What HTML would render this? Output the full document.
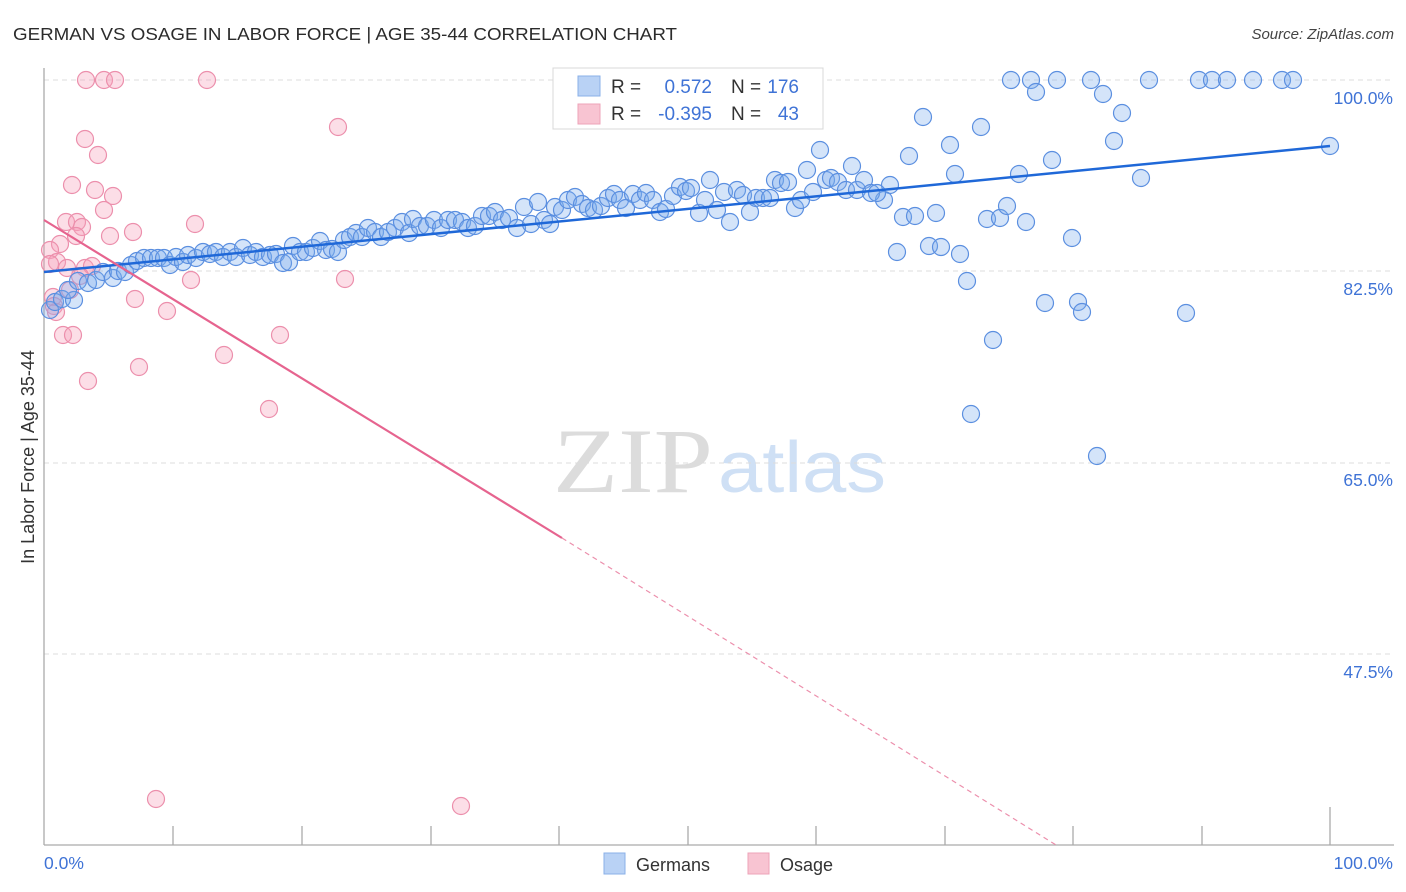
<!DOCTYPE html>
<html><head><meta charset="utf-8"><style>
html,body{margin:0;padding:0;background:#fff;}
svg{display:block;font-family:"Liberation Sans",sans-serif;}
.b circle{fill:rgba(120,170,235,0.32);stroke:#5b8fe0;stroke-width:1.2;}
.p circle{fill:rgba(245,160,185,0.35);stroke:#ec8fac;stroke-width:1.2;}
</style></head><body>
<svg width="1406" height="892" viewBox="0 0 1406 892" xmlns="http://www.w3.org/2000/svg">
<rect width="1406" height="892" fill="#fff"/>
<text x="13" y="40" font-size="17.5" fill="#2b2b2b" textLength="664" lengthAdjust="spacingAndGlyphs">GERMAN VS OSAGE IN LABOR FORCE | AGE 35-44 CORRELATION CHART</text>
<text x="1394" y="39" font-size="15" fill="#444" font-style="italic" text-anchor="end">Source: ZipAtlas.com</text>
<!-- watermark -->
<text x="553" y="492" font-size="92" font-family="Liberation Serif,serif" fill="#dcdcdc" textLength="160" lengthAdjust="spacingAndGlyphs">ZIP</text>
<text x="718" y="492" font-size="72" fill="#cfe0f5" textLength="168" lengthAdjust="spacingAndGlyphs">atlas</text>
<!-- grid -->
<g stroke="#dcdcdc" stroke-width="1" stroke-dasharray="5 4">
<line x1="44" y1="80" x2="1394" y2="80"/><line x1="44" y1="271" x2="1394" y2="271"/><line x1="44" y1="463" x2="1394" y2="463"/><line x1="44" y1="654" x2="1394" y2="654"/>
</g>
<g stroke="#aaa" stroke-width="1.3">
<line x1="44" y1="68" x2="44" y2="845"/><line x1="44" y1="845" x2="1394" y2="845"/>
<line x1="173" y1="826" x2="173" y2="845"/><line x1="302" y1="826" x2="302" y2="845"/><line x1="431" y1="826" x2="431" y2="845"/><line x1="559" y1="826" x2="559" y2="845"/><line x1="688" y1="826" x2="688" y2="845"/><line x1="816" y1="826" x2="816" y2="845"/><line x1="945" y1="826" x2="945" y2="845"/><line x1="1073" y1="826" x2="1073" y2="845"/><line x1="1202" y1="826" x2="1202" y2="845"/><line x1="1330" y1="807" x2="1330" y2="845"/>
</g>
<g font-size="17.5" fill="#3f73d6" text-anchor="end">
<text x="1393" y="104">100.0%</text><text x="1393" y="295">82.5%</text><text x="1393" y="486">65.0%</text><text x="1393" y="678">47.5%</text>
<text x="1393" y="869">100.0%</text>
</g>
<text x="44" y="869" font-size="17.5" fill="#3f73d6">0.0%</text>
<text transform="translate(34,457) rotate(-90)" font-size="18" fill="#333" text-anchor="middle">In Labor Force | Age 35-44</text>
<!-- pink points -->
<g class="p">
<circle cx="86" cy="80" r="8.5"/><circle cx="104" cy="80" r="8.5"/><circle cx="115" cy="80" r="8.5"/><circle cx="207" cy="80" r="8.5"/>
<circle cx="338" cy="127" r="8.5"/><circle cx="85" cy="139" r="8.5"/><circle cx="98" cy="155" r="8.5"/><circle cx="72" cy="185" r="8.5"/>
<circle cx="95" cy="190" r="8.5"/><circle cx="113" cy="196" r="8.5"/><circle cx="104" cy="210" r="8.5"/><circle cx="66" cy="222" r="8.5"/>
<circle cx="77" cy="222" r="8.5"/><circle cx="82" cy="227" r="8.5"/><circle cx="76" cy="236" r="8.5"/><circle cx="110" cy="236" r="8.5"/>
<circle cx="133" cy="232" r="8.5"/><circle cx="195" cy="224" r="8.5"/><circle cx="60" cy="244" r="8.5"/><circle cx="50" cy="250" r="8.5"/>
<circle cx="57" cy="262" r="8.5"/><circle cx="50" cy="264" r="8.5"/><circle cx="85" cy="268" r="8.5"/><circle cx="67" cy="268" r="8.5"/>
<circle cx="92" cy="266" r="8.5"/><circle cx="80" cy="276" r="8.5"/><circle cx="191" cy="280" r="8.5"/><circle cx="345" cy="279" r="8.5"/>
<circle cx="70" cy="290" r="8.5"/><circle cx="53" cy="297" r="8.5"/><circle cx="54" cy="306" r="8.5"/><circle cx="56" cy="312" r="8.5"/>
<circle cx="135" cy="299" r="8.5"/><circle cx="167" cy="311" r="8.5"/><circle cx="63" cy="335" r="8.5"/><circle cx="73" cy="335" r="8.5"/>
<circle cx="224" cy="355" r="8.5"/><circle cx="280" cy="335" r="8.5"/><circle cx="139" cy="367" r="8.5"/><circle cx="88" cy="381" r="8.5"/>
<circle cx="269" cy="409" r="8.5"/><circle cx="156" cy="799" r="8.5"/><circle cx="461" cy="806" r="8.5"/>
</g>
<!-- blue points -->
<g class="b">
<circle cx="1011" cy="80" r="8.5"/><circle cx="1031" cy="80" r="8.5"/><circle cx="1036" cy="92" r="8.5"/><circle cx="1057" cy="80" r="8.5"/><circle cx="1091" cy="80" r="8.5"/><circle cx="1103" cy="94" r="8.5"/><circle cx="1122" cy="113" r="8.5"/><circle cx="1149" cy="80" r="8.5"/><circle cx="1199" cy="80" r="8.5"/><circle cx="1212" cy="80" r="8.5"/><circle cx="1227" cy="80" r="8.5"/><circle cx="1253" cy="80" r="8.5"/><circle cx="1282" cy="80" r="8.5"/><circle cx="1293" cy="80" r="8.5"/><circle cx="1330" cy="146" r="8.5"/>
<circle cx="923" cy="117" r="8.5"/><circle cx="981" cy="127" r="8.5"/><circle cx="950" cy="145" r="8.5"/><circle cx="1114" cy="141" r="8.5"/><circle cx="1052" cy="160" r="8.5"/><circle cx="820" cy="150" r="8.5"/><circle cx="852" cy="166" r="8.5"/><circle cx="909" cy="156" r="8.5"/><circle cx="955" cy="174" r="8.5"/><circle cx="1019" cy="174" r="8.5"/><circle cx="1141" cy="178" r="8.5"/><circle cx="890" cy="185" r="8.5"/><circle cx="884" cy="200" r="8.5"/><circle cx="936" cy="213" r="8.5"/><circle cx="903" cy="217" r="8.5"/><circle cx="915" cy="216" r="8.5"/><circle cx="987" cy="219" r="8.5"/><circle cx="1000" cy="218" r="8.5"/><circle cx="1026" cy="222" r="8.5"/><circle cx="1007" cy="206" r="8.5"/><circle cx="1072" cy="238" r="8.5"/><circle cx="897" cy="252" r="8.5"/><circle cx="929" cy="246" r="8.5"/><circle cx="941" cy="247" r="8.5"/><circle cx="960" cy="254" r="8.5"/><circle cx="967" cy="281" r="8.5"/><circle cx="1045" cy="303" r="8.5"/><circle cx="1078" cy="302" r="8.5"/><circle cx="1082" cy="312" r="8.5"/><circle cx="1186" cy="313" r="8.5"/><circle cx="993" cy="340" r="8.5"/><circle cx="971" cy="414" r="8.5"/><circle cx="1097" cy="456" r="8.5"/>
<circle cx="50" cy="310" r="8.5"/><circle cx="55" cy="302" r="8.5"/><circle cx="62" cy="299" r="8.5"/><circle cx="74" cy="300" r="8.5"/><circle cx="68" cy="290" r="8.5"/><circle cx="78" cy="281" r="8.5"/><circle cx="88" cy="283" r="8.5"/><circle cx="96" cy="280" r="8.5"/><circle cx="103" cy="272" r="8.5"/><circle cx="113" cy="278" r="8.5"/><circle cx="118" cy="271" r="8.5"/><circle cx="125" cy="272" r="8.5"/><circle cx="131" cy="265" r="8.5"/><circle cx="137" cy="261" r="8.5"/><circle cx="144" cy="258" r="8.5"/><circle cx="151" cy="258" r="8.5"/><circle cx="158" cy="258" r="8.5"/><circle cx="164" cy="258" r="8.5"/><circle cx="170" cy="265" r="8.5"/><circle cx="176" cy="257" r="8.5"/><circle cx="183" cy="262" r="8.5"/><circle cx="188" cy="255" r="8.5"/><circle cx="196" cy="258" r="8.5"/><circle cx="203" cy="252" r="8.5"/><circle cx="210" cy="254" r="8.5"/><circle cx="216" cy="252" r="8.5"/><circle cx="223" cy="257" r="8.5"/><circle cx="230" cy="252" r="8.5"/><circle cx="236" cy="257" r="8.5"/><circle cx="243" cy="248" r="8.5"/><circle cx="250" cy="255" r="8.5"/><circle cx="256" cy="252" r="8.5"/><circle cx="263" cy="257" r="8.5"/><circle cx="270" cy="255" r="8.5"/><circle cx="276" cy="254" r="8.5"/><circle cx="283" cy="263" r="8.5"/><circle cx="289" cy="262" r="8.5"/><circle cx="293" cy="246" r="8.5"/><circle cx="300" cy="252" r="8.5"/><circle cx="306" cy="252" r="8.5"/><circle cx="313" cy="248" r="8.5"/><circle cx="320" cy="241" r="8.5"/><circle cx="326" cy="250" r="8.5"/><circle cx="332" cy="249" r="8.5"/><circle cx="338" cy="252" r="8.5"/><circle cx="344" cy="240" r="8.5"/><circle cx="350" cy="237" r="8.5"/><circle cx="356" cy="233" r="8.5"/><circle cx="362" cy="237" r="8.5"/><circle cx="368" cy="228" r="8.5"/><circle cx="375" cy="232" r="8.5"/><circle cx="381" cy="237" r="8.5"/><circle cx="388" cy="232" r="8.5"/><circle cx="395" cy="228" r="8.5"/><circle cx="402" cy="222" r="8.5"/><circle cx="409" cy="233" r="8.5"/><circle cx="413" cy="219" r="8.5"/><circle cx="420" cy="226" r="8.5"/><circle cx="427" cy="226" r="8.5"/><circle cx="434" cy="220" r="8.5"/><circle cx="441" cy="228" r="8.5"/><circle cx="448" cy="220" r="8.5"/><circle cx="455" cy="220" r="8.5"/><circle cx="462" cy="222" r="8.5"/><circle cx="468" cy="228" r="8.5"/><circle cx="475" cy="226" r="8.5"/><circle cx="482" cy="216" r="8.5"/><circle cx="489" cy="216" r="8.5"/><circle cx="495" cy="212" r="8.5"/><circle cx="502" cy="220" r="8.5"/><circle cx="509" cy="218" r="8.5"/><circle cx="517" cy="228" r="8.5"/><circle cx="524" cy="207" r="8.5"/><circle cx="531" cy="224" r="8.5"/><circle cx="538" cy="202" r="8.5"/><circle cx="544" cy="220" r="8.5"/><circle cx="550" cy="224" r="8.5"/><circle cx="555" cy="207" r="8.5"/><circle cx="562" cy="210" r="8.5"/><circle cx="568" cy="200" r="8.5"/><circle cx="575" cy="197" r="8.5"/><circle cx="582" cy="204" r="8.5"/><circle cx="588" cy="208" r="8.5"/><circle cx="594" cy="210" r="8.5"/><circle cx="601" cy="206" r="8.5"/><circle cx="608" cy="198" r="8.5"/><circle cx="614" cy="194" r="8.5"/><circle cx="620" cy="200" r="8.5"/><circle cx="626" cy="208" r="8.5"/><circle cx="633" cy="194" r="8.5"/><circle cx="640" cy="200" r="8.5"/><circle cx="646" cy="193" r="8.5"/><circle cx="653" cy="200" r="8.5"/><circle cx="660" cy="212" r="8.5"/><circle cx="666" cy="209" r="8.5"/><circle cx="673" cy="196" r="8.5"/><circle cx="680" cy="187" r="8.5"/><circle cx="686" cy="191" r="8.5"/><circle cx="691" cy="188" r="8.5"/><circle cx="699" cy="213" r="8.5"/><circle cx="705" cy="200" r="8.5"/><circle cx="710" cy="180" r="8.5"/><circle cx="717" cy="210" r="8.5"/><circle cx="724" cy="192" r="8.5"/><circle cx="730" cy="222" r="8.5"/><circle cx="737" cy="190" r="8.5"/><circle cx="743" cy="195" r="8.5"/><circle cx="750" cy="212" r="8.5"/><circle cx="756" cy="198" r="8.5"/><circle cx="763" cy="198" r="8.5"/><circle cx="770" cy="198" r="8.5"/><circle cx="775" cy="180" r="8.5"/><circle cx="781" cy="183" r="8.5"/><circle cx="788" cy="182" r="8.5"/><circle cx="795" cy="208" r="8.5"/><circle cx="801" cy="200" r="8.5"/><circle cx="807" cy="170" r="8.5"/><circle cx="813" cy="192" r="8.5"/><circle cx="826" cy="180" r="8.5"/><circle cx="831" cy="178" r="8.5"/><circle cx="838" cy="182" r="8.5"/><circle cx="846" cy="190" r="8.5"/><circle cx="857" cy="190" r="8.5"/><circle cx="864" cy="180" r="8.5"/><circle cx="871" cy="193" r="8.5"/><circle cx="877" cy="193" r="8.5"/>
</g>
<!-- trend lines -->
<line x1="44" y1="272" x2="1330" y2="146" stroke="#1f68d8" stroke-width="2.5"/>
<line x1="44" y1="220" x2="562" y2="538" stroke="#e6648f" stroke-width="2.2"/>
<line x1="562" y1="538" x2="1056" y2="845" stroke="#ec8fac" stroke-width="1.2" stroke-dasharray="5 4"/>
<!-- top legend -->
<rect x="553" y="68" width="270" height="61" fill="#fff" stroke="#d8d8d8" stroke-width="1"/>
<rect x="578" y="76" width="22" height="20" fill="#b9d2f5" stroke="#8ab0e8"/>
<rect x="578" y="104" width="22" height="20" fill="#f8c4d2" stroke="#eea3b8"/>
<g font-size="19">
<text x="611" y="93" fill="#333">R =</text><text x="712" y="93" fill="#3f73d6" text-anchor="end">0.572</text>
<text x="731" y="93" fill="#333">N =</text><text x="799" y="93" fill="#3f73d6" text-anchor="end">176</text>
<text x="611" y="120" fill="#333">R =</text><text x="712" y="120" fill="#3f73d6" text-anchor="end">-0.395</text>
<text x="731" y="120" fill="#333">N =</text><text x="799" y="120" fill="#3f73d6" text-anchor="end">43</text>
</g>
<!-- bottom legend -->
<rect x="604" y="853" width="21" height="21" fill="#b9d2f5" stroke="#8ab0e8"/>
<text x="636" y="871" font-size="18" fill="#333">Germans</text>
<rect x="748" y="853" width="21" height="21" fill="#f8c4d2" stroke="#eea3b8"/>
<text x="780" y="871" font-size="18" fill="#333">Osage</text>
</svg>
</body></html>
